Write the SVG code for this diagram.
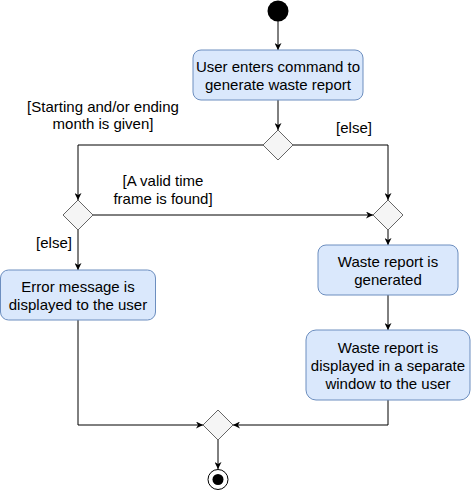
<svg xmlns="http://www.w3.org/2000/svg" width="471" height="491" viewBox="0 0 471 491">
<defs>
<style>
.box{fill:#dae8fc;stroke:#6c8ebf;stroke-width:1}
.dia{fill:#f5f5f5;stroke:#666666;stroke-width:1}
.edge{fill:none;stroke:#000;stroke-width:1}
text{font-family:"Liberation Sans",Arial,Helvetica,sans-serif;font-size:15px;fill:#000;text-anchor:middle}
</style>
<marker id="arr" viewBox="0 0 10 10" refX="10" refY="5" markerWidth="7" markerHeight="7" markerUnits="userSpaceOnUse" orient="auto">
<path d="M0,0 L10,5 L0,10 L3,5 z" fill="#000"/>
</marker>
</defs>
<rect width="471" height="491" fill="#fff"/>
<g id="connectors">
<path class="edge" d="M278,21 L278,50" marker-end="url(#arr)"/>
<path class="edge" d="M278,100 L278,130" marker-end="url(#arr)"/>
<path class="edge" d="M263,145 L78,145 L78,200" marker-end="url(#arr)"/>
<path class="edge" d="M293,145 L388,145 L388,200" marker-end="url(#arr)"/>
<path class="edge" d="M93,215 L373,215" marker-end="url(#arr)"/>
<path class="edge" d="M78,230 L78,270" marker-end="url(#arr)"/>
<path class="edge" d="M388,230 L388,245" marker-end="url(#arr)"/>
<path class="edge" d="M388,295 L388,330" marker-end="url(#arr)"/>
<path class="edge" d="M78,320 L78,425 L203,425" marker-end="url(#arr)"/>
<path class="edge" d="M388,400 L388,425 L233,425" marker-end="url(#arr)"/>
<path class="edge" d="M218,440 L218,469" marker-end="url(#arr)"/>
<text x="103" y="112">[Starting and/or ending</text>
<text x="103" y="129">month is given]</text>
<text x="354" y="133">[else]</text>
<text x="163" y="186">[A valid time</text>
<text x="163" y="204">frame is found]</text>
<text x="54" y="248">[else]</text>
</g>
<g id="start"><circle cx="278" cy="11" r="10.5" fill="#000"/></g>
<g id="enterCommand">
<rect class="box" x="193" y="50" width="170" height="50" rx="8"/>
<text x="278" y="72">User enters command to</text>
<text x="278" y="90">generate waste report</text>
</g>
<g id="decision1"><path class="dia" d="M278,130 L293,145 L278,160 L263,145 z"/></g>
<g id="decision2"><path class="dia" d="M78,200 L93,215 L78,230 L63,215 z"/></g>
<g id="decision3"><path class="dia" d="M388,200 L403,215 L388,230 L373,215 z"/></g>
<g id="errorMessage">
<rect class="box" x="0.5" y="270" width="155" height="50" rx="8"/>
<text x="78" y="292">Error message is</text>
<text x="78" y="310">displayed to the user</text>
</g>
<g id="reportGenerated">
<rect class="box" x="318" y="245" width="140" height="50" rx="8"/>
<text x="388" y="267">Waste report is</text>
<text x="388" y="285">generated</text>
</g>
<g id="reportDisplayed">
<rect class="box" x="306" y="330" width="164" height="70" rx="10"/>
<text x="388" y="353">Waste report is</text>
<text x="388" y="371">displayed in a separate</text>
<text x="388" y="389">window to the user</text>
</g>
<g id="merge"><path class="dia" d="M218,410 L233,425 L218,440 L203,425 z"/></g>
<g id="end">
<circle cx="218" cy="479.5" r="10" fill="#fff" stroke="#000" stroke-width="1"/>
<circle cx="218" cy="479.5" r="5.5" fill="#000"/>
</g>
</svg>
